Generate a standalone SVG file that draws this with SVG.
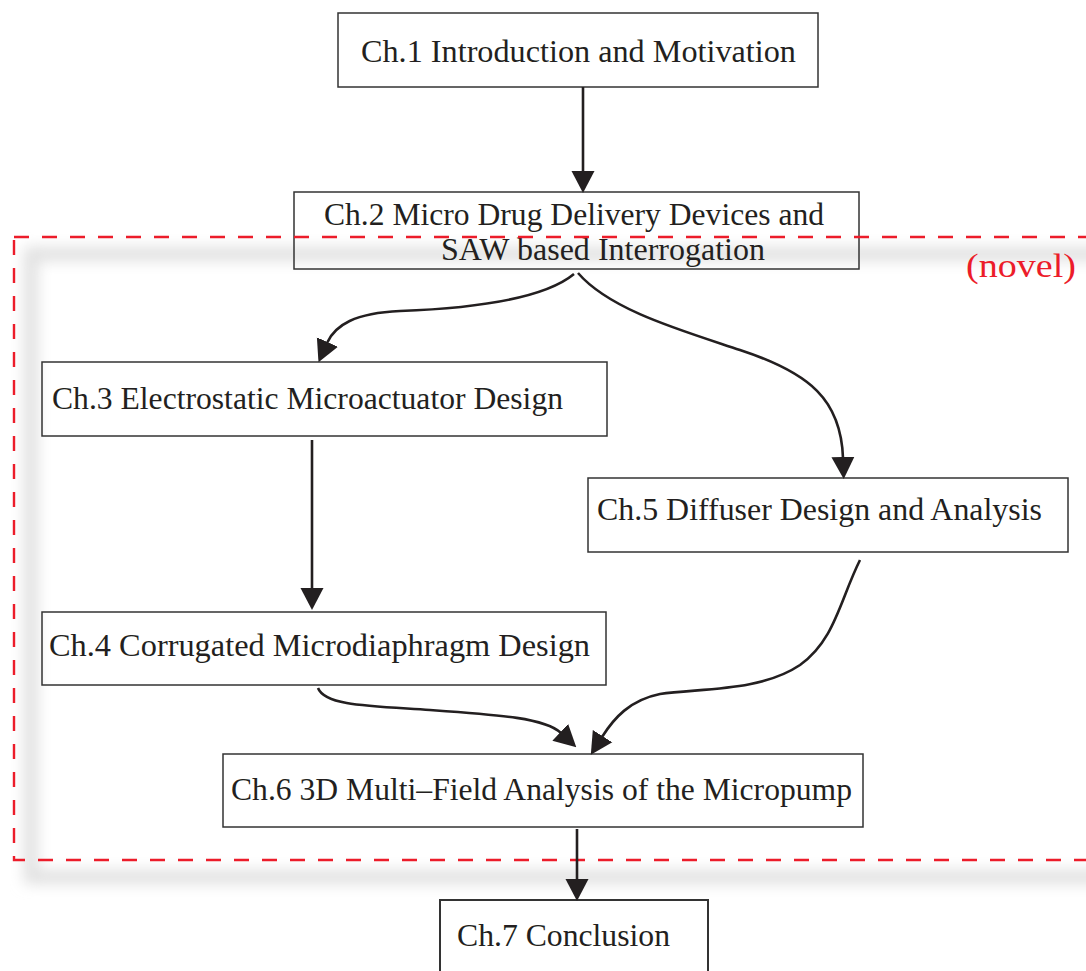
<svg xmlns="http://www.w3.org/2000/svg" width="1086" height="971" viewBox="0 0 1086 971">
  <style>
    .box { fill: none; stroke: #333333; stroke-width: 1.5; }
    .lbl { font-family: "Liberation Serif", "Times New Roman", serif; font-size: 31px; fill: #231f20; }
    .conn { fill: none; stroke: #231f20; stroke-width: 2.6; }
    .novel { fill: none; stroke: #ec1c2a; stroke-width: 2.4; stroke-dasharray: 15 13; }
  </style>
  <defs>
    <marker id="ah" markerUnits="userSpaceOnUse" markerWidth="22" markerHeight="24" viewBox="0 0 21 22" refX="1" refY="11" orient="auto">
      <path d="M0,0 L21,11 L0,22 Z" fill="#231f20"/>
    </marker>
    <filter id="blur" filterUnits="userSpaceOnUse" x="0" y="200" width="1130" height="730">
      <feGaussianBlur stdDeviation="7"/>
    </filter>
  </defs>
  <rect width="1086" height="971" fill="#ffffff"/>

  <!-- shadow of novel region -->
  <rect x="31" y="254" width="1080" height="623" fill="none" stroke="#e0e0e0" stroke-width="14" filter="url(#blur)"/>

  <g id="n1">
    <rect class="box" x="338" y="13" width="480" height="74"/>
    <text class="lbl" x="361" y="62" textLength="435" lengthAdjust="spacingAndGlyphs">Ch.1 Introduction and Motivation</text>
  </g>
  <g id="n2">
    <rect class="box" x="294" y="192" width="565" height="77"/>
    <text class="lbl" x="324" y="225" textLength="500" lengthAdjust="spacingAndGlyphs">Ch.2 Micro Drug Delivery Devices and</text>
    <text class="lbl" x="441" y="260" textLength="324" lengthAdjust="spacingAndGlyphs">SAW based Interrogation</text>
  </g>
  <g id="n3">
    <rect class="box" x="42" y="362" width="565" height="74"/>
    <text class="lbl" x="52" y="409" textLength="511" lengthAdjust="spacingAndGlyphs">Ch.3 Electrostatic Microactuator Design</text>
  </g>
  <g id="n4">
    <rect class="box" x="42" y="612" width="564" height="73"/>
    <text class="lbl" x="49" y="656" textLength="541" lengthAdjust="spacingAndGlyphs">Ch.4 Corrugated Microdiaphragm Design</text>
  </g>
  <g id="n5">
    <rect class="box" x="588" y="478" width="480" height="74"/>
    <text class="lbl" x="597" y="520" textLength="445" lengthAdjust="spacingAndGlyphs">Ch.5 Diffuser Design and Analysis</text>
  </g>
  <g id="n6">
    <rect class="box" x="223" y="754" width="640" height="73"/>
    <text class="lbl" x="231" y="800" textLength="621" lengthAdjust="spacingAndGlyphs">Ch.6 3D Multi–Field Analysis of the Micropump</text>
  </g>
  <g id="n7">
    <rect class="box" x="440" y="900" width="268" height="90" style="stroke-width:2"/>
    <text class="lbl" x="457" y="946" textLength="213" lengthAdjust="spacingAndGlyphs">Ch.7 Conclusion</text>
  </g>

  <g id="novel-region">
    <rect class="novel" x="14" y="237" width="1080" height="623"/>
    <text class="lbl" x="966" y="277" textLength="110" lengthAdjust="spacingAndGlyphs" style="fill:#ec1c2a;font-size:34px">(novel)</text>
  </g>

  <g id="connectors">
    <path class="conn" d="M583,87 L583,172" marker-end="url(#ah)"/>
    <path class="conn" d="M574,274 C545,298 480,308 400,311 C355,313 335,325 327,343" marker-end="url(#ah)"/>
    <path class="conn" d="M578,273 C610,310 680,330 740,350 C810,373 841,400 843,458" marker-end="url(#ah)"/>
    <path class="conn" d="M312,440 L312,589" marker-end="url(#ah)"/>
    <path class="conn" d="M860,560 C840,600 835,640 800,665 C760,692 700,688 660,694 C630,700 614,718 602,737" marker-end="url(#ah)"/>
    <path class="conn" d="M318,688 C325,706 370,706 430,710 C500,715 545,718 561,733" marker-end="url(#ah)"/>
    <path class="conn" d="M577,829 L577,880" marker-end="url(#ah)"/>
  </g>
</svg>
